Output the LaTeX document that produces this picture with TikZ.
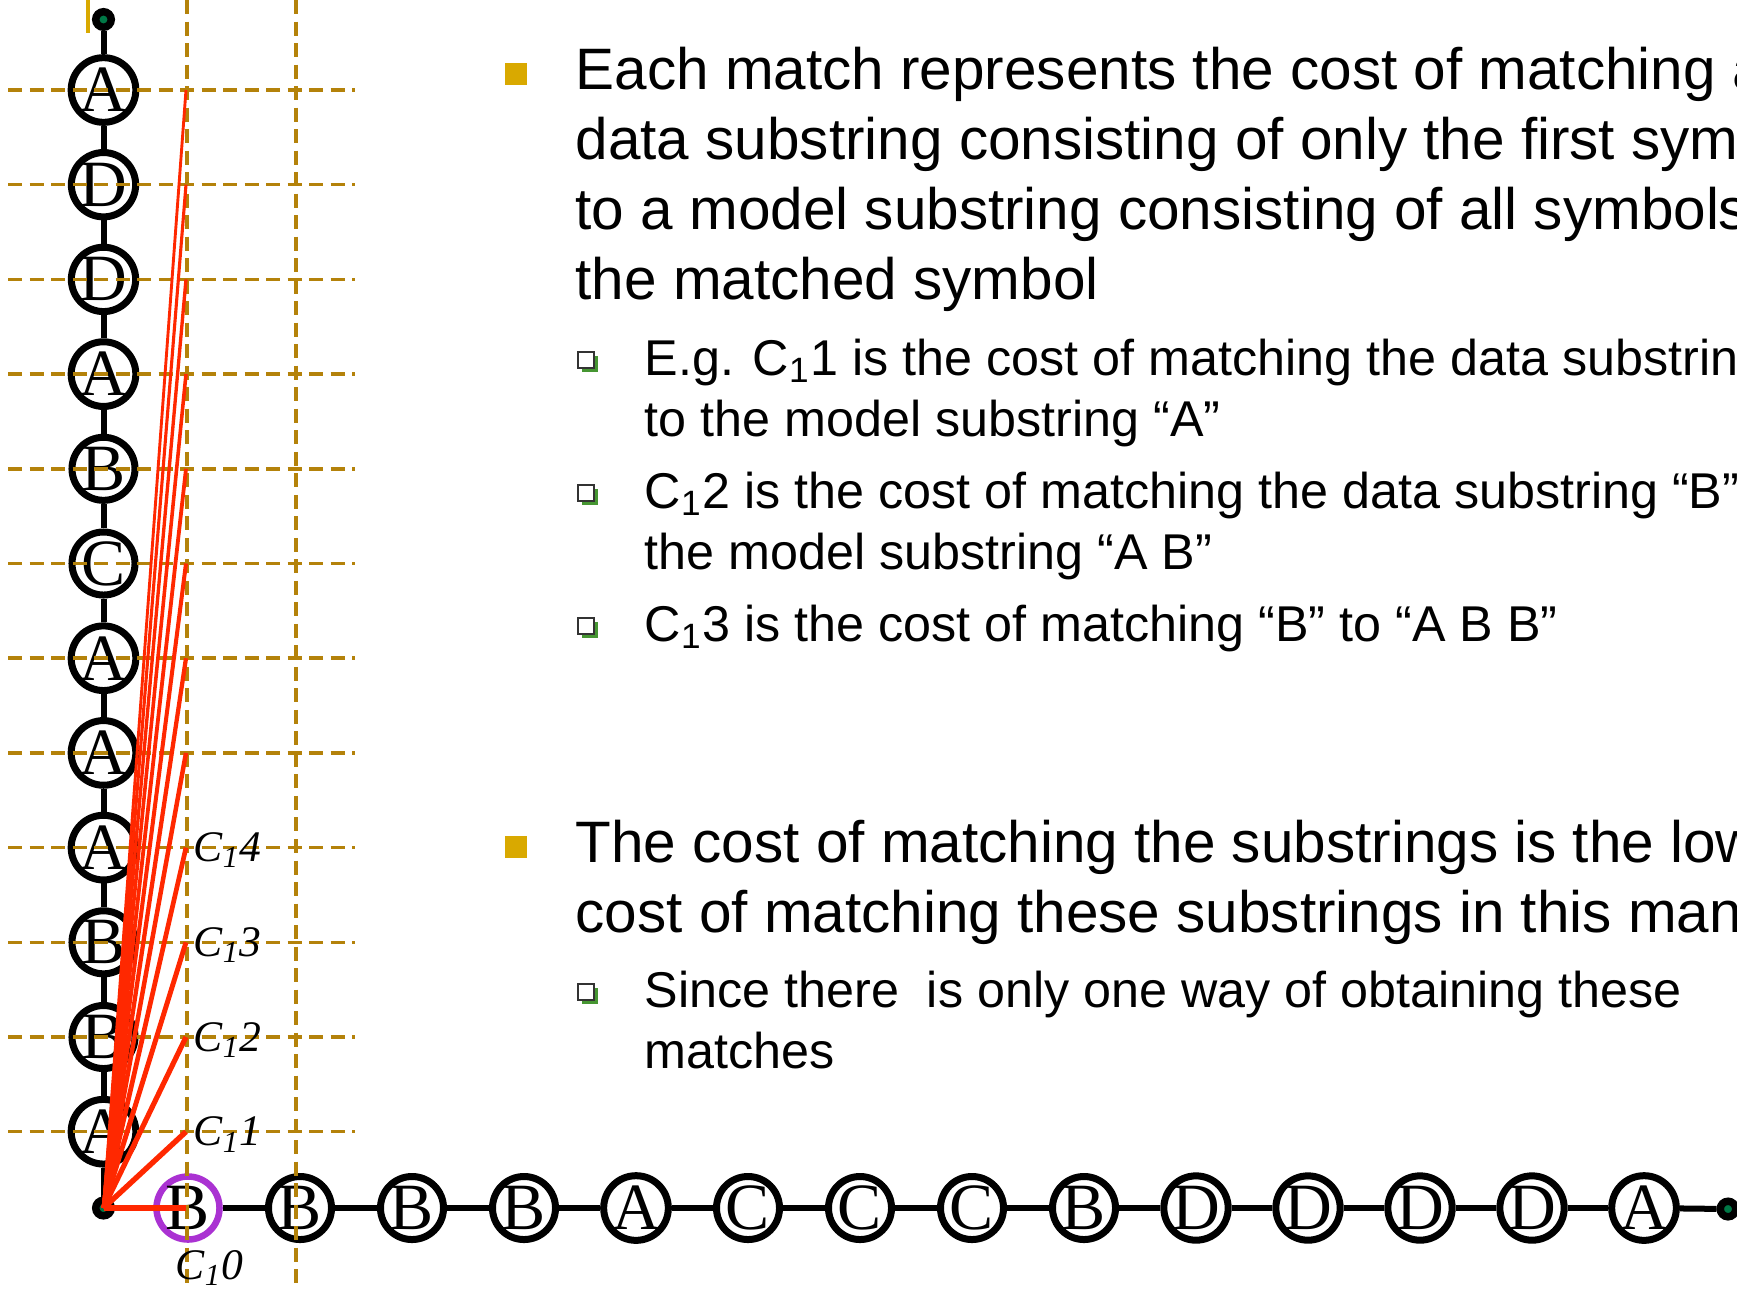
\documentclass[tikz,border=0pt]{standalone}
\usepackage{fontspec}
\setmainfont{Liberation Serif}
\setsansfont{Liberation Sans}
\usetikzlibrary{shadows}

\definecolor{guidegold}{RGB}{180,130,10}
\definecolor{bulgold}{RGB}{217,169,0}
\definecolor{costred}{RGB}{255,40,0}
\definecolor{markpurple}{RGB}{170,50,210}
\definecolor{dotgreen}{RGB}{0,120,70}
\definecolor{bulgreen}{RGB}{70,150,50}

\tikzset{
  sym/.style={circle, draw, line width=0.07cm, minimum size=0.63cm, inner sep=0pt, fill=white,
    font=\fontsize{18.8}{18.8}\selectfont},
  enddot/.style={circle, draw, fill=dotgreen, line width=0.075cm, minimum size=0.155cm, inner sep=0pt},
  chain/.style={line width=0.06cm},
  guide/.style={guidegold, dash pattern=on 0.14cm off 0.075cm, line width=0.035cm},
  cost/.style={costred},
  costlabel/.style={anchor=base west, inner sep=0pt, font=\fontsize{12.4}{12.4}\selectfont\itshape},
  bodytext/.style={anchor=base west, inner sep=0pt, font=\fontsize{16.62}{16.62}\selectfont\sffamily},
  subtext/.style={anchor=base west, inner sep=0pt, font=\fontsize{14.3}{14.3}\selectfont\sffamily},
  mainbul/.style={fill=bulgold, minimum size=0.22cm, inner sep=0pt},
  subbul/.style={draw=black!80, fill=white, line width=0.015cm, minimum size=0.16cm, inner sep=0pt,
    drop shadow={shadow xshift=0.035cm, shadow yshift=-0.035cm, fill=bulgreen, opacity=1}},
}

\begin{document}
\begin{tikzpicture}[x=0.01cm, y=-0.01cm]
  \useasboundingbox (0,0) rectangle (1737,1290);
  \clip (0,0) rectangle (1737,1290);
  \fill[bulgold] (86,0) rectangle (90,33);

  % model string (top to bottom) and data string
  \node[enddot] (mtop) at (103.5,19.5) {};
  \foreach \s [count=\i] in {A,D,D,A,B,C,A,A,A,B,B,A}
    \node[sym] (m\i) at (103.5, {90+94.7*(\i-1)}) {\s};
  \node[enddot] (corner) at (103.5,1208) {};
  \node[sym, draw=markpurple, line width=0.065cm] (d1) at (188,1208) {B};
  \foreach \s [count=\i from 2] in {B,B,B,A,C,C,C,B,D,D,D,D,A}
    \node[sym] (d\i) at ({188+112*(\i-1)}, 1208) {\s};
  \node[enddot] (dend) at (1728,1209) {};

  \draw[chain] (mtop) -- (m1);
  \foreach \i [count=\j from 2] in {1,...,11}
    \draw[chain] (m\i) -- (m\j);
  \draw[chain] (m12) -- (corner);
  \draw[chain] (corner) -- (d1);
  \foreach \i [count=\j from 2] in {1,...,13}
    \draw[chain] (d\i) -- (d\j);
  \draw[chain] (d14) -- (dend);

  \foreach \i in {1,...,12}
    \draw[guide] (8,0 |- m\i) -- (355,0 |- m\i);
  \draw[guide] (187,0) -- (187,1290);
  \draw[guide] (296,0) -- (296,1290);

  % costs C_1 k
  \coordinate (c0) at (186,1208);
  \foreach \k [evaluate=\k as \j using int(13-\k)] in {1,...,12}
    \coordinate (c\k) at (186,0 |- m\j);
  \foreach \k [evaluate=\k as \w using 1.6-0.065*\k] in {0,...,12}
    \draw[cost, line width=\w pt] (corner.center) -- (c\k);
  \node[costlabel] (l0) at (175,1279) {C\textsubscript{1}0};
  \foreach \k in {1,...,4}
    \node[costlabel] (l\k) at ([xshift=0.07cm, yshift=-0.14cm]c\k) {C\textsubscript{1}\k};

  % bullets
  \node[mainbul] (b1) at (516,74) {};
  \foreach \t [count=\i from 0] in {{Each match represents the cost of matching a},
      {data substring consisting of only the first symbol},
      {to a model substring consisting of all symbols},
      {the matched symbol}}
    \node[bodytext] (ta\i) at (575,{89+70*\i}) {\t};

  \node[subbul] (s1) at (586,360) {};
  \node[subtext] (tb0) at (644,375) {E.g. C\textsubscript{1}1 is the cost of matching the data substring};
  \node[subtext] (tb1) at (644,436) {to the model substring “A”};
  \node[subbul] (s2) at (586,493) {};
  \node[subtext] (tc0) at (644,508) {C\textsubscript{1}2 is the cost of matching the data substring “B”};
  \node[subtext] (tc1) at (644,569) {the model substring “A B”};
  \node[subbul] (s3) at (586,626) {};
  \node[subtext] (td0) at (644,641) {C\textsubscript{1}3 is the cost of matching “B” to “A B B”};

  \node[mainbul] (b2) at (516,847) {};
  \node[bodytext] (te0) at (575,862) {The cost of matching the substrings is the lowest};
  \node[bodytext] (te1) at (575,932) {cost of matching these substrings in this manner};
  \node[subbul] (s4) at (586,992) {};
  \node[subtext] (tf0) at (644,1007) {Since there\ \ is only one way of obtaining these};
  \node[subtext] (tf1) at (644,1068) {matches};
\end{tikzpicture}
\end{document}
